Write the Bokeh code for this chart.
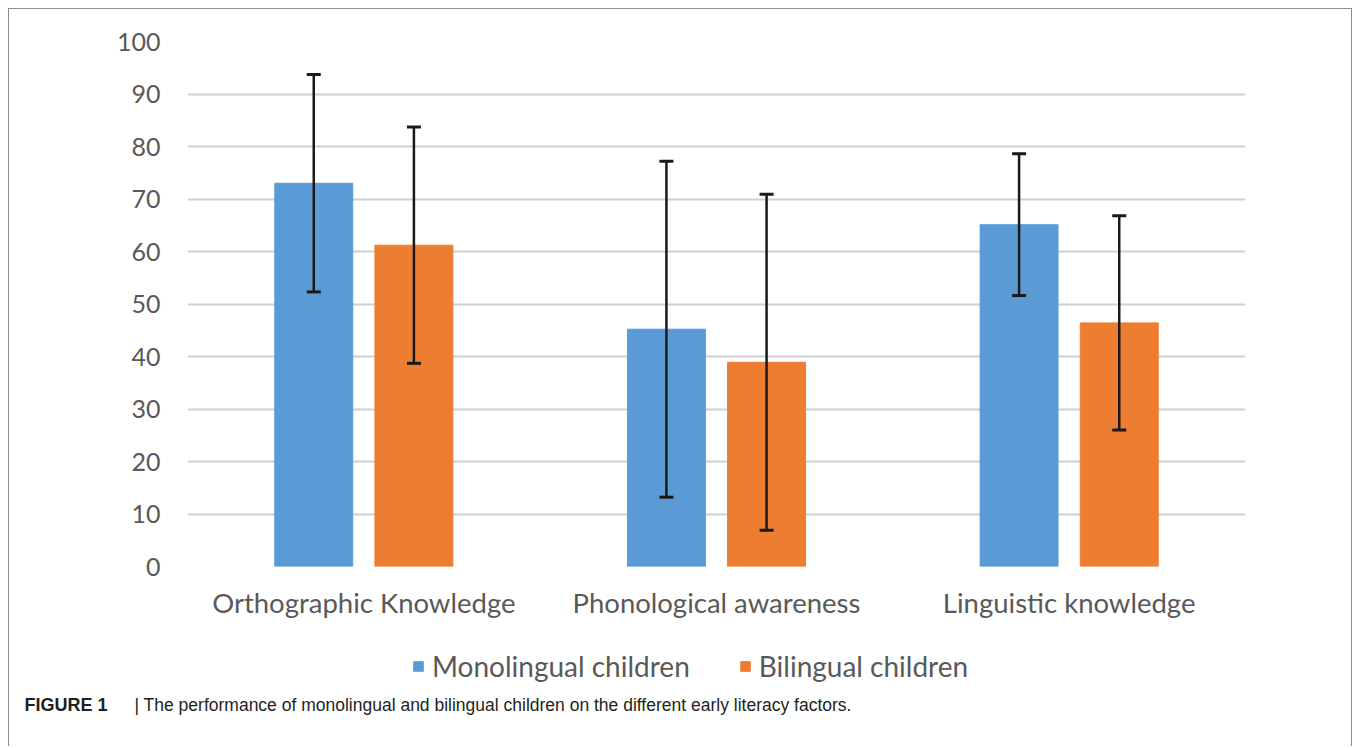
import numpy as np
from bokeh.plotting import figure
from bokeh.layouts import column
from bokeh.models import (ColumnDataSource, FactorRange, Range1d, Whisker, TeeHead,
                          Legend, LegendItem, FixedTicker)
from bokeh.core.properties import value
from bokeh.transform import dodge
from bokeh.embed import file_html
from bokeh.resources import INLINE

categories = ["Orthographic Knowledge", "Phonological awareness", "Linguistic knowledge"]
mono_mean = [73.0, 45.2, 65.1]
mono_sd = [20.7, 32.0, 13.5]
bi_mean = [61.2, 38.9, 46.4]
bi_sd = [22.5, 32.0, 20.4]
series_names = ["Monolingual children", "Bilingual children"]
y_ticks = [0, 10, 20, 30, 40, 50, 60, 70, 80, 90, 100]
caption_bold = "FIGURE 1"
caption_text = "|  The performance of monolingual and bilingual children on the different early literacy factors."

BLUE = "#5B9BD5"
ORANGE = "#ED7D31"
TXT = "#595959"
FONT = "Lato"
BORDER = "1px solid #8c8c8c"
W = 1344

src = ColumnDataSource(dict(
    cat=categories,
    mono=mono_mean,
    mono_lo=[m - s for m, s in zip(mono_mean, mono_sd)],
    mono_hi=[m + s for m, s in zip(mono_mean, mono_sd)],
    bi=bi_mean,
    bi_lo=[m - s for m, s in zip(bi_mean, bi_sd)],
    bi_hi=[m + s for m, s in zip(bi_mean, bi_sd)],
))

p = figure(width=W, height=621, x_range=FactorRange(*categories, range_padding=0),
           y_range=Range1d(0, 100), output_backend="svg", toolbar_location=None,
           min_border_left=178, min_border_right=108, min_border_top=32, min_border_bottom=64)
p.styles = {"border-left": BORDER, "border-top": BORDER, "border-right": BORDER}
p.outline_line_color = None

r1 = p.vbar(x=dodge("cat", -0.142, range=p.x_range), top="mono", width=0.221, source=src,
            fill_color=BLUE, line_color=BLUE)
r2 = p.vbar(x=dodge("cat", 0.142, range=p.x_range), top="bi", width=0.221, source=src,
            fill_color=ORANGE, line_color=ORANGE)

for key, off in (("mono", -0.142), ("bi", 0.142)):
    w = Whisker(base=dodge("cat", off, range=p.x_range), upper=key + "_hi", lower=key + "_lo",
                source=src, line_color="#1a1a1a", line_width=2.5, level="overlay",
                upper_head=TeeHead(size=14, line_color="#1a1a1a", line_width=3),
                lower_head=TeeHead(size=14, line_color="#1a1a1a", line_width=3))
    p.add_layout(w)

p.yaxis.ticker = FixedTicker(ticks=y_ticks)
p.ygrid.ticker = FixedTicker(ticks=y_ticks)
p.ygrid.grid_line_color = "#D0D0D0"
p.ygrid.grid_line_width = 2
p.xgrid.grid_line_color = None

for ax in (p.xaxis, p.yaxis):
    ax.axis_line_color = None
    ax.major_tick_line_color = None
    ax.minor_tick_line_color = None
    ax.major_label_text_font = FONT
    ax.major_label_text_color = TXT
p.yaxis.major_label_text_font_size = "25px"
p.yaxis.major_label_standoff = 21
p.xaxis.major_label_text_font_size = "27.5px"
p.xaxis.major_label_standoff = 13

# legend + caption strip
H2 = 117
p2 = figure(width=W, height=H2, x_range=Range1d(0, W), y_range=Range1d(0, H2),
            output_backend="svg", toolbar_location=None, x_axis_type=None, y_axis_type=None,
            min_border=0, outline_line_color=None)
p2.styles = {"border-left": BORDER, "border-right": BORDER}
p2.grid.visible = False

for fig in (p, p2):
    try:
        fig.frame_align = False
    except Exception:
        pass

proxy = ColumnDataSource(dict(x=np.array([np.nan]), top=np.array([np.nan])))
l1 = p2.vbar(x="x", top="top", width=1, source=proxy, fill_color=BLUE, line_color=BLUE)
l2 = p2.vbar(x="x", top="top", width=1, source=proxy, fill_color=ORANGE, line_color=ORANGE)
legend = Legend(items=[LegendItem(label=series_names[0], renderers=[l1]),
                       LegendItem(label=series_names[1], renderers=[l2])],
                orientation="horizontal", location=(403, 63),
                label_text_font=FONT, label_text_font_size="28px", label_text_color=TXT,
                glyph_width=12, glyph_height=12, label_standoff=8, spacing=49,
                padding=0, margin=0, border_line_color=None, background_fill_alpha=0)
p2.add_layout(legend, "center")

p2.text(x=[15], y=[42], text=[caption_bold], text_font=value("Liberation Sans"),
        text_font_style="bold", text_font_size="18px", text_color="#231f20",
        text_baseline="middle")
p2.text(x=[125], y=[42], text=[caption_text], text_font=value("Liberation Sans"),
        text_font_size="17.5px", text_color="#231f20", text_baseline="middle")

layout = column(p, p2, spacing=0, margin=(8, 0, 0, 8))
open("out.html", "w").write(file_html(layout, INLINE))
